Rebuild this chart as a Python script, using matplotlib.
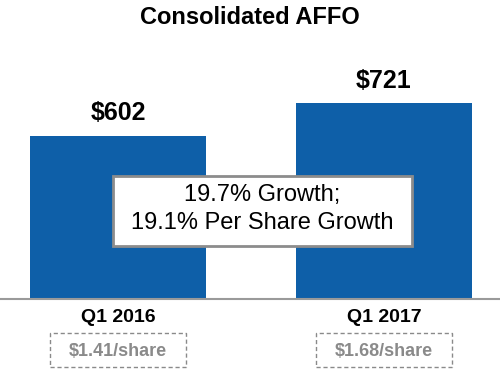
import matplotlib.pyplot as plt
from matplotlib.patches import Rectangle

plt.rcParams['font.family'] = ['Liberation Sans', 'DejaVu Sans']

# data
categories = ['Q1 2016', 'Q1 2017']
affo = [602, 721]
value_labels = ['$602', '$721']
per_share = ['$1.41/share', '$1.68/share']
growth_text = '19.7% Growth;\n19.1% Per Share Growth'

W, H = 500, 378
fig = plt.figure(figsize=(W / 100, H / 100), dpi=100)
ax = fig.add_axes([0, 79 / H, 1, 299 / H])


def fy(py):
    # pixel row from top -> figure fraction
    return 1 - py / H


x = [0, 1]
ax.bar(x, affo, width=0.662, color='#0E5FA8')
ax.set_xlim(-0.4436, 1.436)
ax.set_ylim(0, 1102)
ax.axis('off')

# baseline
ax.axhline(0, color='#9a9a9a', lw=1.5, clip_on=False)

for xi, v, lab in zip(x, affo, value_labels):
    ax.text(xi, v + 40, lab, ha='center', va='bottom', fontsize=18,
            fontweight='bold', color='black')

# title
fig.text(0.5, fy(17), 'Consolidated AFFO', ha='center', va='center',
         fontsize=17, fontweight='bold')

# growth box
fig.patches.append(Rectangle((113 / W, fy(246)), 299 / W, 70 / H,
                             transform=fig.transFigure, fc='white',
                             ec='#8c8c8c', lw=2))
fig.text(262 / W, fy(209), growth_text, ha='center', va='center',
         fontsize=17, linespacing=1.3)

# category labels + per-share boxes
for xi, cat, ps in zip(x, categories, per_share):
    xf = ax.transData.transform((xi, 0))[0] / fig.bbox.width
    fig.text(xf, fy(318), cat, ha='center', va='center',
             fontsize=14, fontweight='bold')
    fig.patches.append(Rectangle((xf - 68 / W, fy(367)), 136 / W, 34 / H,
                                 transform=fig.transFigure, fc='white',
                                 ec='#8a8a8a', lw=1, ls=(0, (3, 2))))
    fig.text(xf, fy(351), ps, ha='center', va='center',
             fontsize=13, fontweight='bold', color='#8a8a8a')

fig.savefig('out.png', dpi=100)
